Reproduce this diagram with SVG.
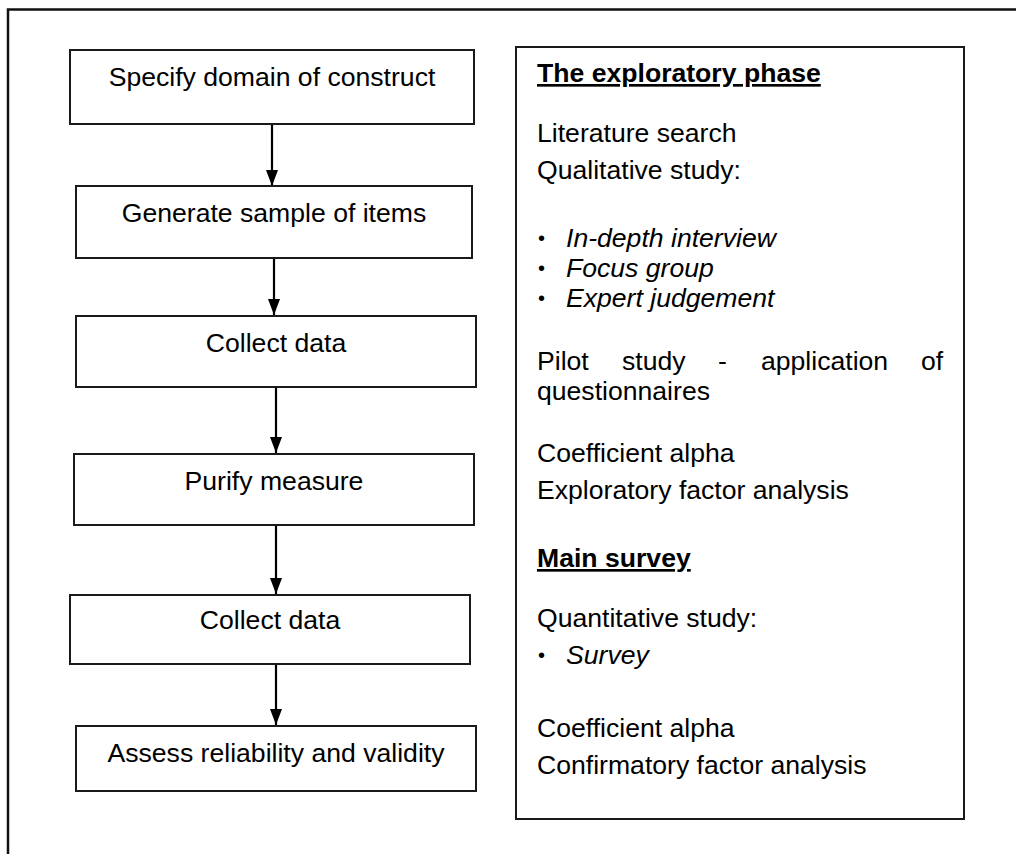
<svg xmlns="http://www.w3.org/2000/svg" width="1016" height="854" viewBox="0 0 1016 854">
  <style>
    .box { fill: #ffffff; stroke: #1a1a1a; stroke-width: 2; }
    .frame { fill: none; stroke: #111111; stroke-width: 2.5; }
    .lbl { font-family: "Liberation Sans", Arial, sans-serif; font-size: 26.6px; fill: #000000; }
    .mid { text-anchor: middle; }
    .it { font-style: italic; }
    .hd { font-weight: bold; text-decoration: underline; }
    .lbl.dot { font-size: 20px; }
    .edge { stroke: #000000; stroke-width: 2.2; fill: none; marker-end: url(#arrow); }
  </style>
  <defs>
    <marker id="arrow" markerWidth="16" markerHeight="12" refX="16" refY="6" orient="auto" markerUnits="userSpaceOnUse">
      <path d="M0,0 L16,6 L0,12 Z" fill="#000000"/>
    </marker>
  </defs>
  <rect width="1016" height="854" fill="#ffffff"/>

  <!-- outer frame: top and left edges -->
  <path class="frame" d="M8,854 L8,9.5 L1016,9.5"/>

  <!-- connectors -->
  <g id="connectors">
    <line class="edge" x1="272" y1="125" x2="272" y2="186"/>
    <line class="edge" x1="274" y1="259" x2="274" y2="315"/>
    <line class="edge" x1="276" y1="388" x2="276" y2="453"/>
    <line class="edge" x1="276" y1="526" x2="276" y2="594"/>
    <line class="edge" x1="276" y1="664" x2="276" y2="725"/>
  </g>

  <!-- process steps -->
  <g id="step-specify">
    <rect class="box" x="70" y="50" width="404" height="74"/>
    <text class="lbl mid" x="272" y="86">Specify domain of construct</text>
  </g>
  <g id="step-generate">
    <rect class="box" x="76" y="186" width="396" height="72"/>
    <text class="lbl mid" x="274" y="222">Generate sample of items</text>
  </g>
  <g id="step-collect-1">
    <rect class="box" x="76" y="316" width="400" height="71"/>
    <text class="lbl mid" x="276" y="352">Collect data</text>
  </g>
  <g id="step-purify">
    <rect class="box" x="74" y="454" width="400" height="71"/>
    <text class="lbl mid" x="274" y="490">Purify measure</text>
  </g>
  <g id="step-collect-2">
    <rect class="box" x="70" y="595" width="400" height="69"/>
    <text class="lbl mid" x="270" y="629">Collect data</text>
  </g>
  <g id="step-assess">
    <rect class="box" x="76" y="726" width="400" height="65"/>
    <text class="lbl mid" x="276" y="762">Assess reliability and validity</text>
  </g>

  <!-- methods panel -->
  <g id="methods">
    <rect class="box" x="516" y="47" width="448" height="772"/>
    <text class="lbl hd" x="537" y="82">The exploratory phase</text>
    <text class="lbl" x="537" y="142">Literature search</text>
    <text class="lbl" x="537" y="179">Qualitative study:</text>
    <text class="lbl dot" x="538" y="245">•</text>
    <text class="lbl it" x="566" y="247">In-depth interview</text>
    <text class="lbl dot" x="538" y="275">•</text>
    <text class="lbl it" x="566" y="277">Focus group</text>
    <text class="lbl dot" x="538" y="305">•</text>
    <text class="lbl it" x="566" y="307">Expert judgement</text>
    <text class="lbl" x="537" y="370">Pilot</text>
    <text class="lbl" x="622" y="370">study</text>
    <text class="lbl" x="718" y="370">-</text>
    <text class="lbl" x="761" y="370">application</text>
    <text class="lbl" x="921" y="370">of</text>
    <text class="lbl" x="537" y="400">questionnaires</text>
    <text class="lbl" x="537" y="462">Coefficient alpha</text>
    <text class="lbl" x="537" y="499">Exploratory factor analysis</text>
    <text class="lbl hd" x="537" y="567">Main survey</text>
    <text class="lbl" x="537" y="627">Quantitative study:</text>
    <text class="lbl dot" x="538" y="662">•</text>
    <text class="lbl it" x="566" y="664">Survey</text>
    <text class="lbl" x="537" y="737">Coefficient alpha</text>
    <text class="lbl" x="537" y="774">Confirmatory factor analysis</text>
  </g>
</svg>
